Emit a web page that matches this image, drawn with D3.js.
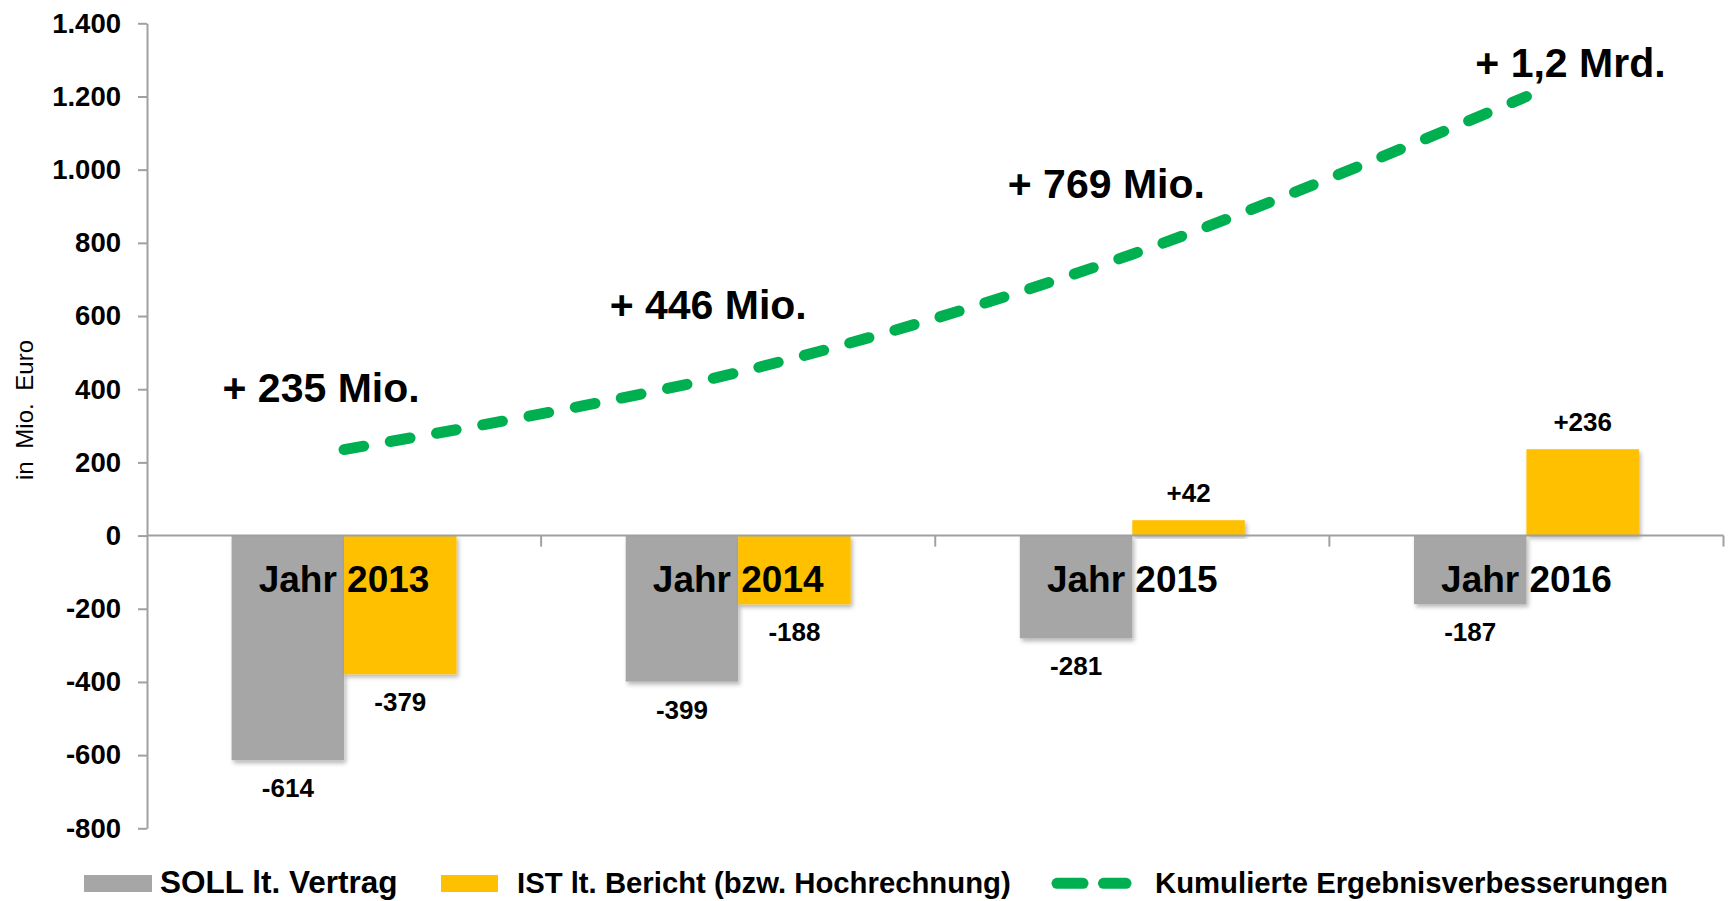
<!DOCTYPE html>
<html><head><meta charset="utf-8">
<script src="https://cdn.jsdelivr.net/npm/d3@7"></script>
<style>
body{margin:0;background:#fff;}
text{font-family:"Liberation Sans",Arial,Helvetica,sans-serif;fill:#000;}
</style>
</head><body>
<svg id="chart" width="1729" height="901"></svg>
<script>
// ---- data ----
const years = ["2013", "2014", "2015", "2016"];
const categoryLabels = ["Jahr 2013", "Jahr 2014", "Jahr 2015", "Jahr 2016"];
const sollValues = [-614, -399, -281, -187];
const istValues = [-379, -188, 42, 236];
const kumValues = [235, 446, 769, 1200];
const kumLabels = ["+ 235 Mio.", "+ 446 Mio.", "+ 769 Mio.", "+ 1,2 Mrd."];
const yTicks = [-800, -600, -400, -200, 0, 200, 400, 600, 800, 1000, 1200, 1400];
const seriesNames = ["SOLL lt. Vertrag", "IST lt. Bericht (bzw. Hochrechnung)", "Kumulierte Ergebnisverbesserungen"];
const yTitle = "in Mio. Euro";

// ---- style / layout ----
const C_SOLL = "#a6a6a6", C_IST = "#ffc000", C_KUM = "#00b050", C_AXIS = "#a0a0a0";
const annOffsets = [[-23, -48], [-30, -53], [-26, -56], [44, -19]];

const svg = d3.select("#chart");
const defs = svg.append("defs");
const f = defs.append("filter").attr("id", "sh").attr("x", "-10%").attr("y", "-10%").attr("width", "130%").attr("height", "130%");
f.append("feDropShadow").attr("dx", 2).attr("dy", 3).attr("stdDeviation", 2).attr("flood-color", "#000").attr("flood-opacity", 0.28);

const x0 = d3.scaleBand().domain(years).range([147, 1723.5]).padding(0);
const x1 = d3.scaleBand().domain(["soll", "ist"]).range([0, x0.bandwidth()]).paddingInner(0).paddingOuter(0.752);
const y = d3.scaleLinear().domain([-800, 1400]).range([828.3, 23.3]);

const loc = d3.formatLocale({decimal: ",", thousands: ".", grouping: [3], currency: ["", " €"], minus: "-"});
const fmt = loc.format(",d");

// y axis
const yAxis = svg.append("g").attr("transform", "translate(147,0)")
  .call(d3.axisLeft(y).tickValues(yTicks).tickSize(9).tickSizeOuter(0).tickPadding(17).tickFormat(fmt));
yAxis.select(".domain").attr("stroke", C_AXIS).attr("stroke-width", 2);
yAxis.selectAll(".tick line").attr("stroke", C_AXIS).attr("stroke-width", 2);
yAxis.selectAll(".tick text").attr("font-size", 27.5).attr("font-weight", "bold")
  .attr("font-family", '"Liberation Sans",Arial,sans-serif').attr("fill", "#000");

// y title
svg.append("text").attr("transform", "translate(33,410) rotate(-90)")
  .attr("text-anchor", "middle").attr("font-size", 24).attr("word-spacing", 6).text(yTitle);

// bars
const groups = svg.append("g").selectAll("g").data(years).join("g")
  .attr("transform", d => `translate(${x0(d)},0)`);
const barData = (i) => [{k: "soll", v: sollValues[i], c: C_SOLL}, {k: "ist", v: istValues[i], c: C_IST}];
groups.each(function(d, i) {
  d3.select(this).selectAll("rect").data(barData(i)).join("rect")
    .attr("x", b => x1(b.k)).attr("width", x1.bandwidth())
    .attr("y", b => Math.min(y(0), y(b.v))).attr("height", b => Math.abs(y(b.v) - y(0)))
    .attr("fill", b => b.c).attr("filter", "url(#sh)");
  d3.select(this).selectAll("text.val").data(barData(i)).join("text").attr("class", "val")
    .attr("x", b => x1(b.k) + x1.bandwidth() / 2)
    .attr("y", b => b.v < 0 ? y(b.v) + 37 : y(b.v) - 18)
    .attr("text-anchor", "middle").attr("font-size", 26).attr("font-weight", "bold")
    .text(b => b.v > 0 ? "+" + b.v : String(b.v));
});

// zero axis line + category ticks
svg.append("line").attr("x1", 147).attr("x2", 1723.5).attr("y1", y(0)).attr("y2", y(0))
  .attr("stroke", C_AXIS).attr("stroke-width", 2);
svg.append("g").selectAll("line").data(years).join("line")
  .attr("x1", d => x0(d) + x0.bandwidth()).attr("x2", d => x0(d) + x0.bandwidth())
  .attr("y1", y(0)).attr("y2", y(0) + 11).attr("stroke", C_AXIS).attr("stroke-width", 2);

// category labels
svg.append("g").selectAll("text").data(years).join("text")
  .attr("x", d => x0(d) + x0.bandwidth() / 2).attr("y", y(0) + 56)
  .attr("text-anchor", "middle").attr("font-size", 37).attr("font-weight", "bold")
  .text((d, i) => categoryLabels[i]);

// cumulative line
const cx = i => x0(years[i]) + x0.bandwidth() / 2;
const line = d3.line().x((d, i) => cx(i)).y(d => y(d)).curve(d3.curveCatmullRom);
svg.append("path").attr("d", line(kumValues)).attr("fill", "none")
  .attr("stroke", C_KUM).attr("stroke-width", 11).attr("stroke-linecap", "round")
  .attr("stroke-dasharray", "20 27");

// annotations
svg.append("g").selectAll("text").data(kumValues).join("text")
  .attr("x", (d, i) => cx(i) + annOffsets[i][0]).attr("y", (d, i) => y(d) + annOffsets[i][1])
  .attr("text-anchor", "middle").attr("font-size", 41).attr("font-weight", "bold")
  .text((d, i) => kumLabels[i]);

// legend
const lg = svg.append("g").attr("font-weight", "bold");
lg.append("rect").attr("x", 84).attr("y", 875).attr("width", 68).attr("height", 17).attr("fill", C_SOLL);
lg.append("text").attr("x", 160).attr("y", 893).attr("font-size", 31.5).text(seriesNames[0]);
lg.append("rect").attr("x", 441).attr("y", 875).attr("width", 57).attr("height", 17).attr("fill", C_IST);
lg.append("text").attr("x", 517).attr("y", 893).attr("font-size", 29.3).text(seriesNames[1]);
[[1057, 1083], [1103.5, 1126]].forEach(([a, b]) => {
  lg.append("line").attr("x1", a).attr("x2", b).attr("y1", 883.3).attr("y2", 883.3)
    .attr("stroke", C_KUM).attr("stroke-width", 11).attr("stroke-linecap", "round");
});
lg.append("text").attr("x", 1155).attr("y", 893).attr("font-size", 29.3).text(seriesNames[2]);
</script>
</body></html>
